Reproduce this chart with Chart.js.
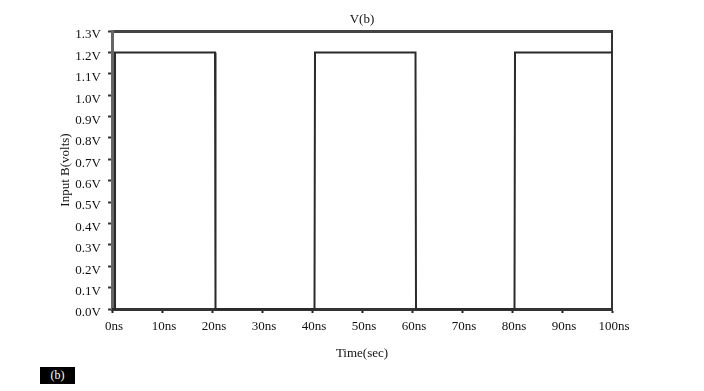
<!DOCTYPE html>
<html>
<head>
<meta charset="utf-8">
<script src="https://cdn.jsdelivr.net/npm/chart.js@4.4.1/dist/chart.umd.min.js"></script>
<style>
  body { margin: 0; background: #fff; }
  #wrap { position: relative; width: 704px; height: 391px; }
  #tag {
    position: absolute; left: 40px; top: 367px; width: 35px; height: 17px;
    background: #000; color: #fff; font: 12px "Liberation Serif", serif;
    text-align: center; line-height: 17px;
  }
</style>
</head>
<body>
<div id="wrap">
  <canvas id="chart" width="704" height="391"></canvas>
  <div id="tag">(b)</div>
</div>
<script>
// Input B square wave
const timeNs = [0, 0.6, 0.6, 20.6, 20.7, 40.5, 40.6, 60.7, 60.8, 80.5, 80.6, 100];
const voltsB = [0, 0, 1.2, 1.2, 0, 0, 1.2, 1.2, 0, 0, 1.2, 1.2];

Chart.defaults.font.family = "'Liberation Serif', 'Times New Roman', serif";
Chart.defaults.font.size = 13;
Chart.defaults.color = "#111";

const points = timeNs.map((t, i) => ({ x: t, y: voltsB[i] }));

new Chart(document.getElementById("chart"), {
  type: "line",
  data: {
    datasets: [{
      label: "V(b)",
      data: points,
      borderColor: "#2a2a2a",
      borderWidth: 2,
      pointRadius: 0,
      tension: 0,
      clip: 3
    }]
  },
  options: {
    responsive: false,
    animation: false,
    layout: { padding: 0 },
    plugins: {
      legend: { display: false },
      tooltip: { enabled: false }
    },
    scales: {
      x: {
        type: "linear",
        min: 0,
        max: 100,
        ticks: {
          stepSize: 10,
          padding: 6,
          labelOffset: 2,
          maxRotation: 0,
          callback: (v) => v + "ns"
        },
        grid: { drawOnChartArea: false, tickLength: 4, tickWidth: 2, tickColor: "#222" },
        border: { color: "#333", width: 3 },
        title: { display: true, text: "Time(sec)", padding: { top: 0, bottom: 30 } },
        afterFit: (s) => { s.height = 82; }
      },
      xTop: {
        type: "linear",
        position: "top",
        min: 0,
        max: 100,
        ticks: { display: false },
        grid: { drawOnChartArea: false, drawTicks: false },
        border: { color: "#444", width: 3 },
        title: { display: true, text: "V(b)", padding: { top: 12, bottom: 0 } },
        afterFit: (s) => { s.height = 31; }
      },
      y: {
        type: "linear",
        min: 0,
        max: 1.3,
        ticks: {
          stepSize: 0.1,
          padding: 7,
          labelOffset: 4,
          callback: (v) => v.toFixed(1) + "V"
        },
        grid: { drawOnChartArea: false, tickLength: 4, tickWidth: 2, tickColor: "#333" },
        border: { color: "#666", width: 3 },
        title: { display: true, text: "Input B(volts)", padding: { top: 58, bottom: 0 } },
        afterFit: (s) => { s.width = 112; }
      },
      yRight: {
        type: "linear",
        position: "right",
        min: 0,
        max: 1.3,
        ticks: { display: false },
        grid: { drawOnChartArea: false, drawTicks: false },
        border: { color: "#333", width: 2 },
        afterFit: (s) => { s.width = 92; }
      }
    }
  }
});
</script>
</body>
</html>
